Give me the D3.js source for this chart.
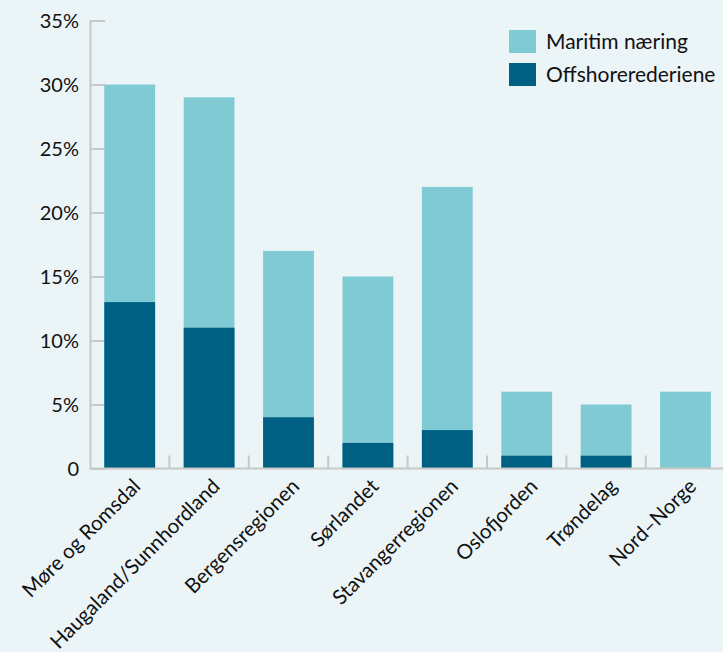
<!DOCTYPE html>
<meta charset="utf-8">
<style type="text/css">
	body { margin: 0; background: #ebf4f7; }
	svg { display: block; }
	text { font-family: Lato, "Open Sans", sans-serif; fill: #111; }
</style>
<body>
</body>
<script src="https://d3js.org/d3.v7.min.js"></script>
<script>

	var regions = ["Møre og Romsdal", "Haugaland/Sunnhordland", "Bergensregionen", "Sørlandet",
		"Stavangerregionen", "Oslofjorden", "Trøndelag", "Nord-Norge"];
	var maritim = [30, 29, 17, 15, 22, 6, 5, 6];
	var offshore = [13, 11, 4, 2, 3, 1, 1, 0];
	var yTicks = [0, 5, 10, 15, 20, 25, 30, 35];
	var seriesNames = ["Maritim næring", "Offshorerederiene"];
	var colors = ["#80cad4", "#006084"];

	var width = 723, height = 652;
	var margin = {top: 20.5, left: 90, bottom: 183.5};

	var svg = d3.select("body").append("svg")
		.attr("width", width)
		.attr("height", height);

	var x = d3.scaleBand()
		.domain(regions)
		.range([margin.left, margin.left + 79.4 * regions.length])
		.paddingInner(0.36)
		.paddingOuter(0.18);

	var y = d3.scaleLinear()
		.domain([0, 35])
		.range([height - margin.bottom, margin.top]);

	var axisColor = "#c8c8c8";

	// y axis
	var yAxis = svg.append("g")
		.attr("transform", "translate(" + margin.left + ",0)")
		.call(d3.axisRight(y).tickValues(yTicks).tickSize(15).tickFormat(""));
	yAxis.select(".domain").attr("stroke", axisColor).attr("stroke-width", 2);
	yAxis.selectAll(".tick line").attr("stroke", axisColor).attr("stroke-width", 2);

	svg.selectAll(".ylab")
		.data(yTicks)
		.enter()
		.append("text")
		.attr("class", "ylab")
		.attr("x", 79)
		.attr("y", function(d) { return y(d); })
		.attr("dy", "0.36em")
		.attr("text-anchor", "end")
		.attr("font-size", "20px")
		.text(function(d) { return d === 0 ? "0" : d + "%"; });

	// bars
	svg.selectAll(".bar-m")
		.data(maritim)
		.enter()
		.append("rect")
		.attr("class", "bar-m")
		.attr("x", function(d, i) { return x(regions[i]); })
		.attr("y", function(d) { return y(d); })
		.attr("width", x.bandwidth())
		.attr("height", function(d) { return y(0) - y(d); })
		.attr("fill", colors[0]);

	svg.selectAll(".bar-o")
		.data(offshore)
		.enter()
		.append("rect")
		.attr("class", "bar-o")
		.attr("x", function(d, i) { return x(regions[i]); })
		.attr("y", function(d) { return y(d); })
		.attr("width", x.bandwidth())
		.attr("height", function(d) { return y(0) - y(d); })
		.attr("fill", colors[1]);

	// x axis line and category separators
	svg.append("line")
		.attr("x1", margin.left)
		.attr("x2", width)
		.attr("y1", y(0))
		.attr("y2", y(0))
		.attr("stroke", axisColor)
		.attr("stroke-width", 2);

	var step = x.step();
	svg.selectAll(".sep")
		.data(regions.slice(1))
		.enter()
		.append("line")
		.attr("class", "sep")
		.attr("x1", function(d) { return x(d) - step * x.paddingInner() / 2; })
		.attr("x2", function(d) { return x(d) - step * x.paddingInner() / 2; })
		.attr("y1", y(0))
		.attr("y2", y(0) - 13)
		.attr("stroke", axisColor)
		.attr("stroke-width", 2);

	svg.selectAll(".xlab")
		.data(regions)
		.enter()
		.append("text")
		.attr("class", "xlab")
		.attr("text-anchor", "end")
		.attr("font-size", "20.5px")
		.attr("transform", function(d) {
			return "translate(" + (x(d) + x.bandwidth() / 2 + 7) + "," + (y(0) + 14) + ") rotate(-45)";
		})
		.attr("dy", "0.35em")
		.text(function(d) { return d.replace("-", "–"); });

	// legend
	var legend = svg.selectAll(".legend")
		.data(seriesNames)
		.enter()
		.append("g")
		.attr("class", "legend")
		.attr("transform", function(d, i) { return "translate(509," + (30 + i * 33) + ")"; });

	legend.append("rect")
		.attr("width", 27)
		.attr("height", 23)
		.attr("fill", function(d, i) { return colors[i]; });

	legend.append("text")
		.attr("x", 37)
		.attr("y", 12)
		.attr("dy", "0.35em")
		.attr("font-size", "21px")
		.text(function(d) { return d; });

</script>
